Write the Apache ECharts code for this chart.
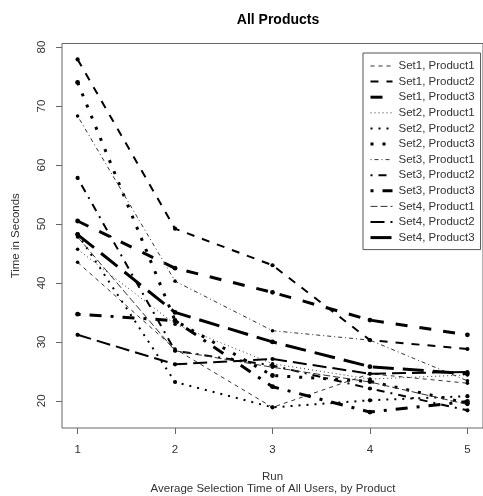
<!DOCTYPE html>
<html>
<head>
<meta charset="utf-8">
<script src="https://cdn.jsdelivr.net/npm/echarts@6/dist/echarts.min.js"></script>
<style>
  html, body { margin: 0; padding: 0; background: #fff; }
  #myChart { width: 483px; height: 496px; }
</style>
</head>
<body>
<div id="myChart"></div>
<script>
// runs on the x axis
const runs = [1, 2, 3, 4, 5];
const yTicks = [20, 30, 40, 50, 60, 70, 80];

// average selection time (seconds)
const set1Product1 = [43.5, 28.8, 18.9, 24.6, 23.0];
const set1Product2 = [77.9, 49.2, 43.0, 30.3, 28.8];
const set1Product3 = [50.5, 42.5, 38.4, 33.7, 31.2];
const set2Product1 = [45.7, 33.0, 26.3, 23.7, 24.4];
const set2Product2 = [48.3, 23.2, 18.9, 20.1, 20.8];
const set2Product3 = [74.0, 33.6, 24.3, 23.3, 19.6];
const set3Product1 = [68.3, 40.3, 31.9, 30.3, 23.4];
const set3Product2 = [57.8, 28.5, 26.0, 22.1, 18.4];
const set3Product3 = [34.7, 33.6, 22.4, 18.1, 19.9];
const set4Product1 = [47.8, 28.5, 25.7, 23.2, 19.4];
const set4Product2 = [31.2, 26.2, 27.1, 24.6, 24.9];
const set4Product3 = [48.2, 35.0, 30.0, 25.8, 24.6];

const names = [
  "Set1, Product1", "Set1, Product2", "Set1, Product3",
  "Set2, Product1", "Set2, Product2", "Set2, Product3",
  "Set3, Product1", "Set3, Product2", "Set3, Product3",
  "Set4, Product1", "Set4, Product2", "Set4, Product3"
];
const values = [
  set1Product1, set1Product2, set1Product3,
  set2Product1, set2Product2, set2Product3,
  set3Product1, set3Product2, set3Product3,
  set4Product1, set4Product2, set4Product3
];

// R style line types: dashed, dotted, dotdash, longdash (scaled by width)
const dashes = [[4, 4], [1, 3], [1, 3, 4, 3], [7, 3]];
const font = "Liberation Sans";

const series = names.map((name, i) => {
  const set = Math.floor(i / 3);
  const lw = (i % 3) + 1;
  const col = lw === 1 ? "#333" : "#000";
  return {
    name: name,
    type: "line",
    data: runs.map((r, j) => [r, values[i][j]]),
    symbol: "circle",
    symbolSize: 3 + lw * 0.6,
    itemStyle: { color: "#000" },
    lineStyle: {
      color: col,
      width: lw,
      type: dashes[set].map(d => d * lw)
    },
    emphasis: { disabled: true },
    animation: false
  };
});

const myChart = echarts.init(document.getElementById("myChart"));

const option = {
  backgroundColor: "#fff",
  title: [
    {
      text: "All Products",
      left: 273,
      top: 8,
      textAlign: "center",
      textStyle: { fontFamily: font, fontSize: 14, fontWeight: "bold", color: "#000" }
    },
    {
      text: "Average Selection Time of All Users, by Product",
      left: 273,
      top: 483,
      textAlign: "center",
      padding: 0,
      textStyle: { fontFamily: font, fontSize: 11.5, fontWeight: "normal", color: "#333" }
    }
  ],
  grid: {
    left: 62,
    top: 43.5,
    width: 424,
    height: 384.5,
    show: true,
    borderColor: "#666",
    borderWidth: 1
  },
  legend: {
    orient: "vertical",
    left: 363,
    top: 53,
    width: 116,
    padding: [7, 6, 6, 6],
    itemWidth: 22,
    itemHeight: 10,
    itemGap: 3.6,
    borderColor: "#555",
    borderWidth: 1,
    borderRadius: 0,
    itemStyle: { opacity: 0 },
    lineStyle: { width: "inherit", type: "inherit", color: "inherit" },
    textStyle: { fontFamily: font, fontSize: 11.5, color: "#333", padding: [0, 0, 0, 1] },
    data: names
  },
  xAxis: {
    type: "value",
    min: 0.84,
    max: 5.16,
    name: "Run",
    nameLocation: "middle",
    nameGap: 43,
    nameTextStyle: { fontFamily: font, fontSize: 11.5, color: "#333" },
    axisLine: { show: false },
    splitLine: { show: false },
    axisTick: { show: true, length: 6, customValues: runs, lineStyle: { color: "#666" } },
    axisLabel: { customValues: runs, margin: 16, fontFamily: font, fontSize: 11.5, color: "#333" }
  },
  yAxis: {
    type: "value",
    min: 15.4,
    max: 80.6,
    name: "Time in Seconds",
    nameLocation: "middle",
    nameGap: 40,
    nameTextStyle: { fontFamily: font, fontSize: 11.5, color: "#333" },
    axisLine: { show: false },
    splitLine: { show: false },
    axisTick: { show: true, length: 6, customValues: yTicks, lineStyle: { color: "#666" } },
    axisLabel: { customValues: yTicks, rotate: 90, margin: 14, fontFamily: font, fontSize: 11.5, color: "#333" }
  },
  series: series
};

myChart.setOption(option);
</script>
</body>
</html>
